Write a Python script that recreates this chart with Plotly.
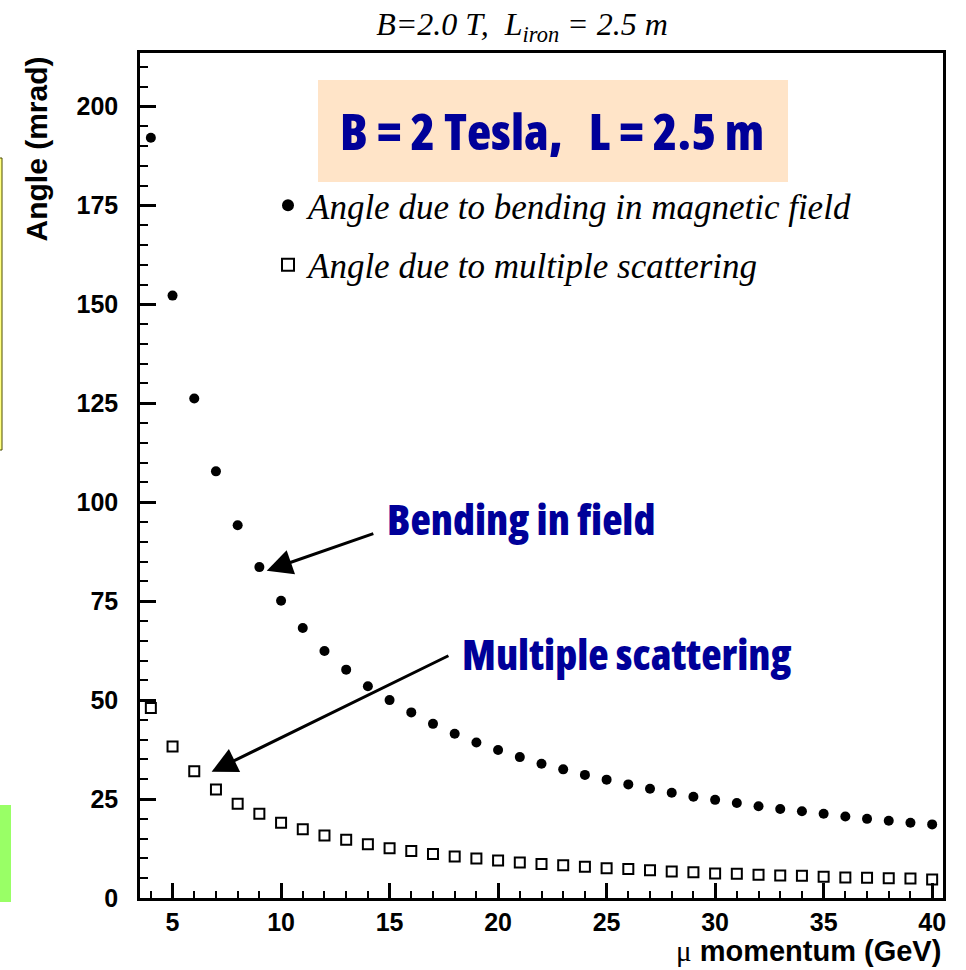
import plotly.graph_objects as go

# ---------------- data ----------------
momentum = list(range(4, 41))
bending = [192.1, 152.2, 126.2, 107.8, 94.2, 83.6, 75.1, 68.2, 62.4, 57.7,
           53.5, 50.0, 46.9, 44.0, 41.5, 39.3, 37.4, 35.6, 33.9, 32.5,
           31.1, 29.9, 28.7, 27.6, 26.6, 25.6, 24.8, 24.0, 23.2, 22.5,
           21.9, 21.3, 20.6, 20.0, 19.5, 19.0, 18.6]
scattering = [48.0, 38.3, 32.0, 27.4, 23.8, 21.3, 19.0, 17.4, 15.8, 14.7,
              13.6, 12.6, 11.9, 11.1, 10.5, 10.0, 9.5, 9.0, 8.6, 8.3,
              7.9, 7.5, 7.3, 7.0, 6.7, 6.5, 6.2, 6.1, 5.9, 5.7,
              5.6, 5.4, 5.2, 5.1, 5.0, 4.9, 4.7]
series_names = ["Angle due to bending in magnetic field",
                "Angle due to multiple scattering"]
x_title = "momentum (GeV)"
y_title = "Angle (mrad)"
title_text = "B=2.0 T,\u00a0\u00a0L<sub>iron</sub> = 2.5 m"
box_text = "B = 2 Tesla,\u00a0\u00a0\u00a0L = 2.5 m"
label_bending = "Bending in field"
label_scatter = "Multiple scattering"

# ---------------- geometry helpers (page pixel coords) ----------------
W, H = 966, 970
PL, PR, PT, PB = 140, 943, 53, 898   # plot frame in page pixels


def px_x(p):
    return (p - PL) / (PR - PL)


def px_y(p):
    return (PB - p) / (PB - PT)


def cond(txt):
    return ('<span style="font-stretch:75%;font-weight:800">' + txt +
            '</span>')


COND = "Open Sans, Roboto Condensed, sans-serif"
SANS = "Liberation Sans, Arial, sans-serif"
SERIF = "Liberation Serif, Times New Roman, serif"
BLUE = "#000099"

fig = go.Figure()
fig.add_trace(go.Scatter(
    x=momentum, y=bending, mode="markers", name=series_names[0],
    legendgroup="bend",
    marker=dict(symbol="circle", size=10, color="black"),
))
fig.add_trace(go.Scatter(
    x=momentum, y=scattering, mode="markers", name=series_names[1],
    legendgroup="scat",
    marker=dict(symbol="square-open", size=10, color="black",
                line=dict(width=2, color="black")),
))

axis_common = dict(
    showline=True, linewidth=2.5, linecolor="black", mirror=True,
    showgrid=False, zeroline=False, ticks="inside", tickcolor="black",
    tickwidth=2.5, tickfont=dict(family=SANS, size=25, color="black",
                                 weight="bold"),
)
fig.update_xaxes(
    range=[3.5, 40.5], tickmode="linear", tick0=0, dtick=5, ticklen=15,
    ticklabelstandoff=0,
    minor=dict(tickmode="linear", tick0=0, dtick=1, ticks="inside",
               ticklen=7, tickwidth=2, tickcolor="black", showgrid=False),
    **axis_common,
)
fig.update_yaxes(
    range=[0, 213.5], tickmode="linear", tick0=0, dtick=25, ticklen=16,
    ticklabelstandoff=14,
    minor=dict(tickmode="linear", tick0=0, dtick=5, ticks="inside",
               ticklen=8, tickwidth=2, tickcolor="black", showgrid=False),
    **axis_common,
)

shapes = [
    # peach box behind the big label
    dict(type="rect", xref="paper", yref="paper",
         x0=px_x(318), x1=px_x(788), y0=px_y(182), y1=px_y(80),
         fillcolor="#FFE4C8", line=dict(width=0), layer="above"),
    # yellow slide remnant at the left edge
    dict(type="rect", xref="paper", yref="paper",
         x0=px_x(-10), x1=px_x(2), y0=px_y(450), y1=px_y(158),
         fillcolor="#FFFF80", line=dict(width=1, color="#4d4d00")),
    # green slide remnant at the left edge
    dict(type="rect", xref="paper", yref="paper",
         x0=px_x(-10), x1=px_x(11), y0=px_y(902), y1=px_y(805),
         fillcolor="#99FF66", line=dict(width=0)),
]

annotations = [
    dict(text=cond(box_text), xref="paper", yref="paper", x=px_x(552),
         y=px_y(131), xanchor="center", yanchor="middle", showarrow=False,
         font=dict(family=COND, size=50, color=BLUE)),
    dict(text=cond(label_bending), xref="paper", yref="paper", x=px_x(385),
         y=px_y(518), xanchor="left", yanchor="middle", showarrow=False,
         font=dict(family=COND, size=42, color=BLUE)),
    dict(text=cond(label_scatter), xref="paper", yref="paper", x=px_x(460),
         y=px_y(653), xanchor="left", yanchor="middle", showarrow=False,
         font=dict(family=COND, size=42, color=BLUE)),
    # arrows
    dict(text="", x=9.34, y=82.7, ax=14.32, ay=92.2, xref="x", yref="y",
         axref="x", ayref="y", showarrow=True, arrowhead=2, arrowsize=1.7,
         arrowwidth=3, arrowcolor="black", standoff=0),
    dict(text="", x=6.80, y=31.9, ax=17.78, ay=61.4, xref="x", yref="y",
         axref="x", ayref="y", showarrow=True, arrowhead=2, arrowsize=1.7,
         arrowwidth=3, arrowcolor="black", standoff=0),
    # axis titles
    dict(text="<b>" + y_title + "</b>", textangle=-90, xref="paper",
         yref="paper", x=px_x(36), y=px_y(55), xanchor="center",
         yanchor="top", showarrow=False,
         font=dict(family=SANS, size=30, color="black")),
    dict(text='<span style="font-family:Liberation Serif;font-weight:normal">'
              '\u03bc</span> <b>' + x_title + '</b>',
         xref="paper", yref="paper", x=px_x(943), y=px_y(951),
         xanchor="right", yanchor="middle", showarrow=False,
         font=dict(family=SANS, size=29, color="black")),
]

fig.update_layout(
    width=W, height=H,
    margin=dict(l=PL, r=W - PR, t=PT, b=H - PB, pad=0),
    paper_bgcolor="white", plot_bgcolor="white",
    title=dict(text=title_text, x=522 / W, xanchor="center",
               y=1 - 24 / H, yanchor="middle",
               font=dict(family=SERIF, size=32, color="black",
                         style="italic")),
    showlegend=True,
    legend=dict(x=px_x(268), y=px_y(176), xanchor="left", yanchor="top",
                bgcolor="rgba(0,0,0,0)", borderwidth=0, tracegroupgap=11,
                itemwidth=30, itemsizing="constant",
                font=dict(family=SERIF, size=35, color="black",
                          style="italic")),
    shapes=shapes,
    annotations=annotations,
)

# remove the default 8px body margin so the figure fills the window exactly
fig.write_html("out.html",
               config={"displayModeBar": False},
               post_script="document.body.style.margin='0px';"
                           "document.body.style.overflow='hidden';")
